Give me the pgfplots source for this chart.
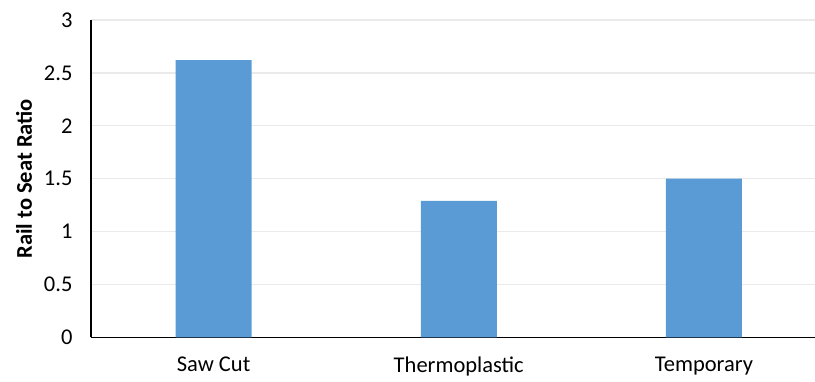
\documentclass[border=0pt]{standalone}
\usepackage{pgfplots}
\pgfplotsset{compat=1.18}
\usepackage{fontspec}
\setmainfont{Carlito}

\definecolor{barblue}{HTML}{5B9BD5}
\definecolor{gridgray}{HTML}{EAEAEA}

\begin{document}
\begin{tikzpicture}
\path[use as bounding box] (-91pt,-44.5pt) rectangle (724pt,337.5pt);
\begin{axis}[
  at={(0,0)}, anchor=south west,
  scale only axis, width=724pt, height=317.5pt,
  xmin=-0.5, xmax=2.453, ymin=0, ymax=3,
  axis x line*=bottom, axis y line*=left,
  axis line style={black, line width=1.2pt},
  ytick={0,0.5,1,1.5,2,2.5,3},
  xtick={0,1,2},
  xticklabels={Saw Cut,Thermoplastic,Temporary},
  major tick length=0pt,
  ymajorgrids, grid style={gridgray, line width=1.2pt},
  /pgf/number format/assume math mode=true,
  tick label style={font=\fontsize{22.5}{27}\selectfont, black},
  yticklabel style={xshift=-15pt},
  xticklabel style={yshift=-16pt},
  every axis y label/.style={at={(axis description cs:-0.0925,0.5)}, rotate=90, anchor=center},
  ylabel={Rail to Seat Ratio},
  ylabel style={font=\fontsize{22.5}{27}\selectfont\bfseries},
  clip=false,
]
\addplot[ybar, bar width=76pt, fill=barblue, draw=none]
  coordinates {(0,2.62) (1,1.29) (2,1.50)};
\end{axis}
\end{tikzpicture}
\end{document}
